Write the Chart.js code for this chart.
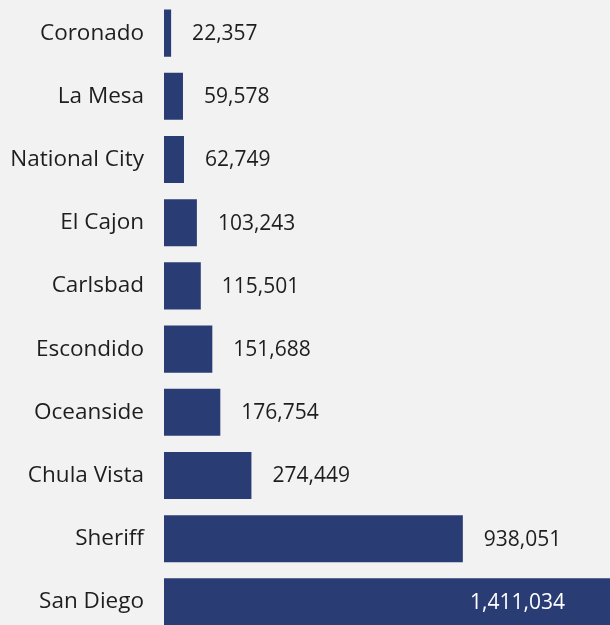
<!DOCTYPE html>
<html>
<head>
<meta charset="utf-8">
<script src="https://cdn.jsdelivr.net/npm/chart.js@4"></script>
<style>
  html, body { margin: 0; padding: 0; background: #f2f2f2; overflow: hidden; }
  canvas { display: block; }
</style>
</head>
<body>
<canvas id="chart" width="610" height="635"></canvas>
<script>
// Agencies and their counts
const agencies = ["Coronado", "La Mesa", "National City", "El Cajon", "Carlsbad",
                  "Escondido", "Oceanside", "Chula Vista", "Sheriff", "San Diego"];
const counts = [22357, 59578, 62749, 103243, 115501, 151688, 176754, 274449, 938051, 1411034];

const BAR_COLOR = "#2a3c74";
const TEXT_COLOR = "#1e1e1e";
const FONT = "'Open Sans', sans-serif";

// Writes each count beside its bar; bars running past the plot edge get the label inside in white
const valueLabels = {
  id: "valueLabels",
  afterDatasetsDraw(chart) {
    const ctx = chart.ctx;
    const area = chart.chartArea;
    const meta = chart.getDatasetMeta(0);
    ctx.save();
    ctx.font = "21px " + FONT;
    ctx.textBaseline = "middle";
    meta.data.forEach((bar, i) => {
      const txt = counts[i].toLocaleString("en-US");
      if (bar.x > area.right) {
        ctx.fillStyle = "#ffffff";
        ctx.textAlign = "right";
        ctx.fillText(txt, area.right - 45, bar.y + 1);
      } else {
        ctx.fillStyle = TEXT_COLOR;
        ctx.textAlign = "left";
        ctx.fillText(txt, bar.x + 21, bar.y + 1);
      }
    });
    ctx.restore();
  }
};

new Chart(document.getElementById("chart"), {
  type: "bar",
  data: {
    labels: agencies,
    datasets: [{
      data: counts,
      backgroundColor: BAR_COLOR,
      borderWidth: 0,
      categoryPercentage: 1,
      barPercentage: 0.745
    }]
  },
  options: {
    indexAxis: "y",
    responsive: false,
    animation: false,
    layout: { padding: { top: 1.5, bottom: 1.5, left: 0, right: 0 } },
    plugins: { legend: { display: false }, tooltip: { enabled: false } },
    scales: {
      x: {
        display: false,
        min: 0,
        max: 1400000
      },
      y: {
        grid: { display: false, drawTicks: false },
        border: { display: false },
        ticks: {
          color: TEXT_COLOR,
          font: { family: FONT, size: 22.5 },
          padding: 20
        },
        afterFit(scale) {
          scale.width = 164;
          scale.paddingTop = 0;
          scale.paddingBottom = 0;
        }
      }
    }
  },
  plugins: [valueLabels]
});
</script>
</body>
</html>
